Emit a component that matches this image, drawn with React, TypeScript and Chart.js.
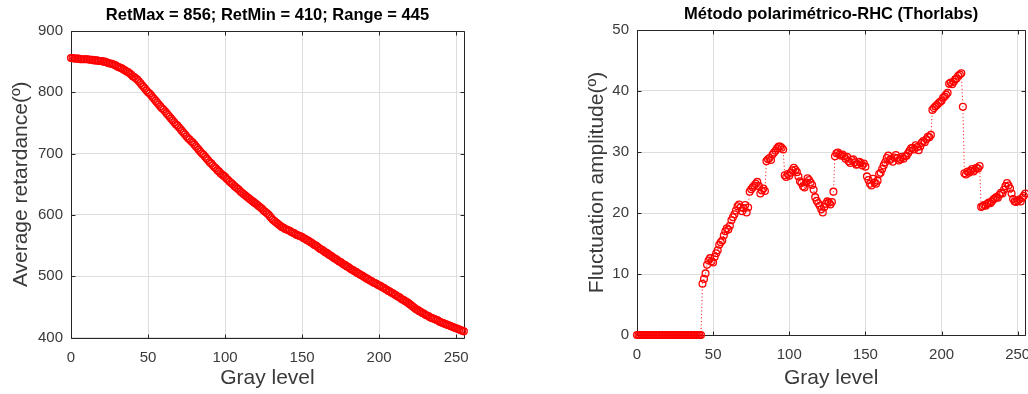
import React, { useEffect, useRef } from "react";
import { Chart, registerables } from "chart.js";

Chart.register(...registerables);

// ---------- data ----------
const GRAY_LEVELS: number[] = Array.from({ length: 256 }, (_, i) => i);

const X_TICKS = [0, 50, 100, 150, 200, 250];
const LEFT_Y_TICKS = [400, 500, 600, 700, 800, 900];
const RIGHT_Y_TICKS = [0, 10, 20, 30, 40, 50];

const LEFT_TITLE = "RetMax = 856; RetMin = 410; Range = 445";
const RIGHT_TITLE = "Método polarimétrico-RHC (Thorlabs)";
const X_LABEL = "Gray level";
const LEFT_Y_LABEL = "Average retardance(º)";
const RIGHT_Y_LABEL = "Fluctuation amplitude(º)";

const AVERAGE_RETARDANCE = [
  856, 856, 855, 855, 855, 855, 854, 854, 854, 854,
  854, 854, 853, 853, 853, 852, 852, 852, 851, 851,
  851, 850, 850, 849, 848, 847, 847, 846, 845, 844,
  842, 841, 840, 839, 837, 836, 834, 833, 831, 829,
  826, 825, 823, 821, 818, 815, 812, 809, 806, 803,
  800, 798, 795, 792, 789, 786, 783, 780, 777, 774,
  772, 769, 766, 763, 760, 757, 754, 751, 748, 746,
  743, 740, 737, 734, 731, 728, 725, 723, 720, 718,
  715, 712, 709, 706, 703, 700, 698, 695, 692, 689,
  686, 684, 681, 678, 676, 673, 671, 668, 666, 664,
  662, 659, 657, 654, 652, 650, 647, 645, 643, 641,
  638, 636, 634, 632, 630, 628, 626, 624, 622, 620,
  618, 616, 614, 612, 610, 607, 605, 603, 601, 598,
  595, 592, 590, 588, 586, 584, 582, 580, 579, 577,
  576, 575, 574, 572, 571, 570, 568, 567, 566, 565,
  564, 562, 561, 559, 558, 556, 555, 553, 551, 550,
  548, 546, 544, 543, 541, 539, 538, 536, 534, 533,
  531, 529, 528, 526, 524, 523, 521, 519, 518, 516,
  515, 513, 511, 510, 508, 507, 505, 504, 502, 501,
  499, 498, 496, 495, 493, 492, 490, 489, 488, 486,
  485, 484, 482, 481, 479, 478, 476, 475, 473, 472,
  470, 469, 467, 466, 464, 462, 461, 459, 458, 456,
  454, 452, 450, 448, 446, 445, 443, 442, 440, 439,
  437, 436, 435, 433, 432, 431, 430, 429, 428, 426,
  425, 424, 423, 422, 421, 420, 419, 418, 417, 416,
  415, 414, 413, 412, 411, 410,
];

const FLUCTUATION_AMPLITUDE = [
  0, 0, 0, 0, 0, 0, 0, 0, 0, 0,
  0, 0, 0, 0, 0, 0, 0, 0, 0, 0,
  0, 0, 0, 0, 0, 0, 0, 0, 0, 0,
  0, 0, 0, 0, 0, 0, 0, 0, 0, 0,
  0, 0, 0, 8.4, 9.2, 10.1, 11.5, 12.2, 12.6, 12.1,
  11.9, 12.8, 13.4, 13.9, 14.8, 15.2, 15.5, 16.3, 17.0, 17.5,
  17.3, 17.9, 18.8, 19.3, 19.8, 20.4, 21.1, 21.4, 20.9, 20.3,
  20.8, 21.3, 20.1, 20.9, 23.5, 23.9, 24.2, 24.5, 24.8, 25.1,
  24.4, 23.2, 23.7, 24.0, 23.6, 28.5, 28.8, 29.0, 28.7, 29.6,
  29.9, 30.2, 30.6, 30.9, 30.9, 30.7, 30.4, 26.2, 25.9, 26.4,
  26.1, 26.6, 27.0, 27.4, 27.1, 26.7, 26.0, 25.2, 24.9, 24.4,
  24.2, 25.0, 25.7, 25.4, 25.0, 24.6, 23.8, 22.6, 22.0, 21.6,
  21.2, 20.6, 20.1, 21.0, 21.5, 21.9, 21.7, 21.4, 21.8, 23.5,
  29.3, 29.8, 29.9, 29.6, 29.4, 29.6, 29.3, 28.9, 29.2, 28.5,
  28.2, 28.7, 28.8, 28.3, 27.9, 28.0, 28.4, 28.2, 27.8, 28.1,
  27.6, 26.0, 25.4, 24.8, 24.5, 25.6, 25.0, 24.8, 25.3, 26.4,
  26.6, 27.2, 27.8, 28.3, 29.0, 29.4, 28.7, 28.9, 28.4, 29.1,
  29.5, 29.0, 28.6, 28.8, 29.2, 28.9, 29.3, 29.4, 29.8, 30.2,
  30.6, 30.7, 30.4, 31.1, 30.8, 30.3, 30.9, 31.5, 31.8, 31.6,
  32.1, 32.5, 32.4, 32.8, 36.9, 37.2, 37.5, 37.7, 38.0, 38.2,
  38.4, 38.9, 39.1, 39.4, 39.7, 41.2, 41.4, 41.1, 41.5, 41.9,
  42.1, 42.5, 42.7, 42.9, 37.4, 26.5, 26.3, 26.8, 26.6, 26.9,
  27.2, 26.8, 27.1, 27.4, 27.3, 27.7, 21.0, 21.1, 21.3, 21.2,
  21.5, 21.7, 21.6, 21.9, 22.2, 22.4, 22.6, 22.5, 23.0, 23.3,
  23.2, 23.8, 24.4, 24.9, 24.5, 24.0, 23.2, 22.3, 21.9, 21.8,
  22.0, 22.2, 21.9, 22.5, 22.8, 23.2,
];

// ---------- styles ----------
const FONT = "'Liberation Sans', Arial, Helvetica, sans-serif";
const TEXT = "#3a3a3a";
const AXIS = "#262626";
const GRID = "#dedede";
const RED = "#ff0000";

const boxPlugin = {
  id: "matlabBox",
  beforeDatasetsDraw(chart: any) {
    const { ctx, chartArea, scales } = chart;
    const { left, right, top, bottom } = chartArea;
    const xs = scales.x;
    const ys = scales.y;
    const tl = 4;
    const a = (v: number) => Math.round(v) + 0.5;
    ctx.save();
    ctx.strokeStyle = AXIS;
    ctx.lineWidth = 1;
    ctx.beginPath();
    ctx.rect(a(left), a(top), Math.round(right) - Math.round(left), Math.round(bottom) - Math.round(top));
    ctx.stroke();
    ctx.beginPath();
    for (const t of xs.ticks) {
      const px = a(xs.getPixelForValue(t.value));
      ctx.moveTo(px, a(bottom));
      ctx.lineTo(px, a(bottom) - tl);
      ctx.moveTo(px, a(top));
      ctx.lineTo(px, a(top) + tl);
    }
    for (const t of ys.ticks) {
      const py = a(ys.getPixelForValue(t.value));
      ctx.moveTo(a(left), py);
      ctx.lineTo(a(left) + tl, py);
      ctx.moveTo(a(right), py);
      ctx.lineTo(a(right) - tl, py);
    }
    ctx.stroke();
    ctx.restore();
  },
};

type Cfg = {
  title: string;
  yLabel: string;
  values: number[];
  yMin: number;
  yMax: number;
  yTicks: number[];
  yAxisWidth: number;
  xAxisHeight: number;
  padRight: number;
  titleTop: number;
  titleBottom: number;
  yTitlePad: number;
};

function makeChart(canvas: HTMLCanvasElement, c: Cfg) {
  const points = GRAY_LEVELS.map((g, i) => ({ x: g, y: c.values[i] }));
  return new Chart(canvas, {
    type: "scatter",
    data: {
      datasets: [
        {
          data: points,
          showLine: true,
          borderColor: RED,
          borderWidth: 1,
          borderDash: [1, 2.5],
          pointStyle: "circle",
          pointRadius: 3.4,
          pointBorderWidth: 1.3,
          pointBorderColor: RED,
          pointBackgroundColor: "rgba(255,255,255,0)",
          fill: false,
          tension: 0,
          clip: false,
        } as any,
      ],
    },
    options: {
      responsive: false,
      animation: false,
      events: [],
      layout: { padding: { left: 0, top: 0, bottom: 0, right: c.padRight } },
      plugins: {
        legend: { display: false },
        tooltip: { enabled: false },
        title: {
          display: true,
          text: c.title,
          fullSize: false,
          color: "#000000",
          font: { family: FONT, size: 16.5, weight: "bold", lineHeight: 1.2 },
          padding: { top: c.titleTop, bottom: c.titleBottom },
        },
      },
      scales: {
        x: {
          type: "linear",
          min: 0,
          max: 255,
          afterBuildTicks: (s: any) => {
            s.ticks = X_TICKS.map((v) => ({ value: v }));
          },
          afterFit: (s: any) => {
            s.height = c.xAxisHeight;
          },
          grid: { color: GRID, lineWidth: 1, drawTicks: false },
          border: { display: false },
          ticks: {
            padding: 11,
            color: TEXT,
            font: { family: FONT, size: 15 },
            maxRotation: 0,
            autoSkip: false,
          },
          title: {
            display: true,
            text: X_LABEL,
            color: TEXT,
            font: { family: FONT, size: 21, lineHeight: 1.2 },
            padding: { top: 0, bottom: 3.4 },
          },
        },
        y: {
          type: "linear",
          min: c.yMin,
          max: c.yMax,
          afterBuildTicks: (s: any) => {
            s.ticks = c.yTicks.map((v) => ({ value: v }));
          },
          afterFit: (s: any) => {
            s.width = c.yAxisWidth;
          },
          grid: { color: GRID, lineWidth: 1, drawTicks: false },
          border: { display: false },
          ticks: {
            padding: 8,
            color: TEXT,
            font: { family: FONT, size: 15 },
            autoSkip: false,
          },
          title: {
            display: true,
            text: c.yLabel,
            color: TEXT,
            font: { family: FONT, size: 21, lineHeight: 1.2 },
            padding: { top: c.yTitlePad, bottom: 0 },
          },
        },
      },
    } as any,
    plugins: [boxPlugin],
  });
}

export default function App() {
  const leftRef = useRef<HTMLCanvasElement>(null);
  const rightRef = useRef<HTMLCanvasElement>(null);

  useEffect(() => {
    const left = makeChart(leftRef.current!, {
      title: LEFT_TITLE,
      yLabel: LEFT_Y_LABEL,
      values: AVERAGE_RETARDANCE,
      yMin: 400,
      yMax: 900,
      yTicks: LEFT_Y_TICKS,
      yAxisWidth: 71,
      xAxisHeight: 56.5,
      padRight: 16,
      titleTop: 6,
      titleBottom: 5.2,
      yTitlePad: 8.4,
    });
    const right = makeChart(rightRef.current!, {
      title: RIGHT_TITLE,
      yLabel: RIGHT_Y_LABEL,
      values: FLUCTUATION_AMPLITUDE,
      yMin: 0,
      yMax: 50,
      yTicks: RIGHT_Y_TICKS,
      yAxisWidth: 77,
      xAxisHeight: 59,
      padRight: 34.7,
      titleTop: 5,
      titleBottom: 5.2,
      yTitlePad: 24.4,
    });
    return () => {
      left.destroy();
      right.destroy();
    };
  }, []);

  return (
    <div
      style={{
        position: "fixed",
        left: 0,
        top: 0,
        width: 1028,
        height: 394,
        overflow: "hidden",
        background: "#ffffff",
      }}
    >
      <div style={{ position: "absolute", left: 0, top: 0, width: 480, height: 394 }}>
        <canvas ref={leftRef} width={480} height={394} style={{ display: "block" }} />
      </div>
      <div style={{ position: "absolute", left: 560, top: 0, width: 500, height: 394 }}>
        <canvas ref={rightRef} width={500} height={394} style={{ display: "block" }} />
      </div>
    </div>
  );
}
